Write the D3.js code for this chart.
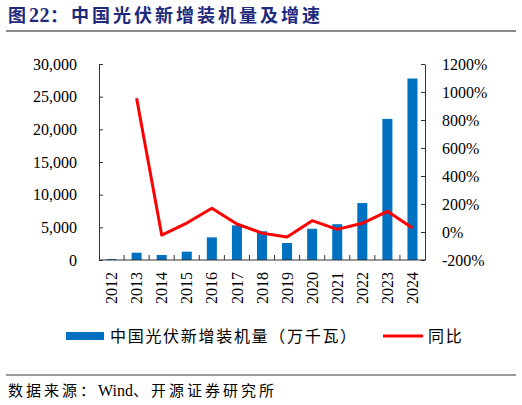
<!DOCTYPE html>
<html><head><meta charset="utf-8">
<script src="https://cdn.jsdelivr.net/npm/d3@7"></script>
<style>body{margin:0;background:#fff} svg{display:block}</style>
</head><body><svg id="c" width="522" height="405"></svg>
<script>
const years = ["2012","2013","2014","2015","2016","2017","2018","2019","2020","2021","2022","2023","2024"];
const capacity = [150, 1117, 770, 1270, 3470, 5300, 4400, 2600, 4780, 5480, 8720, 21600, 27780];
const yoy = [null, 955, -22, 64, 170, 57, -8, -36, 81, 19, 62, 148, 28];
const leftTicks = [0, 5000, 10000, 15000, 20000, 25000, 30000];
const rightTicks = [-200, 0, 200, 400, 600, 800, 1000, 1200];
const titleParts = ["图", "22", "：中国光伏新增装机量及增速"];
const barLabel = "中国光伏新增装机量（万千瓦）";
const lineLabel = "同比";
const sourceParts = ["数据来源：", "Wind", "、开源证券研究所"];

const svg = d3.select("#c");
const serif = "'Liberation Serif','Times New Roman','Noto Sans CJK SC',serif";
const cjk = "'Liberation Serif','Noto Sans CJK SC',sans-serif";
const axisColor = "#333";
const L = 99, R = 425, T = 64, B = 260;

// title
const tt = svg.append("text").attr("x", 8).attr("y", 22)
  .attr("font-family", cjk).attr("font-size", 18).attr("font-weight", "bold")
  .attr("fill", "#1f2a7c");
tt.selectAll("tspan").data(titleParts).join("tspan")
  .attr("letter-spacing", (d, i) => (i === 1 ? 0.5 : 3))
  .attr("font-size", (d, i) => (i === 1 ? 20 : 18))
  .text((d) => d);
svg.append("line").attr("x1", 6).attr("x2", 516).attr("y1", 31).attr("y2", 31)
  .attr("stroke", "#8a8a8a").attr("stroke-width", 2);

const x = d3.scaleBand().domain(years).range([L, R]).padding(0);
const yL = d3.scaleLinear().domain([0, 30000]).range([B, T]);
const yR = d3.scaleLinear().domain([-200, 1200]).range([B, T]);

// bars
const bw = x.bandwidth() * 0.4;
svg.append("g").selectAll("rect").data(years).join("rect")
  .attr("x", (d) => x(d) + (x.bandwidth() - bw) / 2)
  .attr("width", bw)
  .attr("y", (d, i) => yL(capacity[i]))
  .attr("height", (d, i) => yL(0) - yL(capacity[i]))
  .attr("fill", "#0070c0");

// left axis
const gl = svg.append("g").attr("transform", `translate(${L},0)`)
  .call(d3.axisLeft(yL).tickValues(leftTicks).tickFormat(d3.format(",")).tickSizeInner(-4).tickSizeOuter(0).tickPadding(22));
// right axis
const gr = svg.append("g").attr("transform", `translate(${R},0)`)
  .call(d3.axisRight(yR).tickValues(rightTicks).tickFormat((d) => d + "%").tickSizeInner(-4).tickSizeOuter(0).tickPadding(17));
[gl, gr].forEach((g) => {
  g.select(".domain").attr("stroke", axisColor);
  g.selectAll(".tick line").attr("stroke", axisColor);
  g.selectAll("text").attr("font-family", serif).attr("font-size", 16).attr("fill", "#000");
});

// bottom axis
const gb = svg.append("g").attr("transform", `translate(0,${B})`);
gb.append("line").attr("x1", L).attr("x2", R).attr("y1", 0).attr("y2", 0).attr("stroke", axisColor);
gb.selectAll("line.tk").data(years.slice(1)).join("line").attr("class", "tk")
  .attr("x1", (d) => x(d)).attr("x2", (d) => x(d)).attr("y1", 0).attr("y2", -5).attr("stroke", axisColor);
gb.selectAll("text").data(years).join("text")
  .attr("transform", (d) => `translate(${x(d) + x.bandwidth() / 2},12) rotate(-90)`)
  .attr("text-anchor", "end").attr("dy", "0.35em")
  .attr("font-family", serif).attr("font-size", 16).text((d) => d);

// line
const line = d3.line().defined((d) => d[1] !== null)
  .x((d) => x(d[0]) + x.bandwidth() / 2).y((d) => yR(d[1]));
svg.append("path").datum(years.map((d, i) => [d, yoy[i]]))
  .attr("d", line).attr("fill", "none").attr("stroke", "#ff0000").attr("stroke-width", 3)
  .attr("stroke-linejoin", "round");

// legend
svg.append("rect").attr("x", 66).attr("y", 332).attr("width", 38).attr("height", 8).attr("fill", "#0070c0");
svg.append("text").attr("x", 110).attr("y", 342).attr("font-family", cjk).attr("font-size", 16)
  .attr("letter-spacing", 1.7).text(barLabel);
svg.append("line").attr("x1", 383).attr("x2", 423).attr("y1", 336).attr("y2", 336)
  .attr("stroke", "#ff0000").attr("stroke-width", 3);
svg.append("text").attr("x", 428).attr("y", 342).attr("font-family", cjk).attr("font-size", 16)
  .attr("letter-spacing", 1.7).text(lineLabel);

// footer
svg.append("line").attr("x1", 6).attr("x2", 516).attr("y1", 375).attr("y2", 375)
  .attr("stroke", "#7a7a7a").attr("stroke-width", 1.5);
const ft = svg.append("text").attr("x", 8).attr("y", 396).attr("font-family", cjk).attr("font-size", 15);
ft.selectAll("tspan").data(sourceParts).join("tspan")
  .attr("letter-spacing", (d, i) => (i === 1 ? 0 : 3))
  .attr("font-size", (d, i) => (i === 1 ? 16 : 15))
  .text((d) => d);
</script></body></html>
